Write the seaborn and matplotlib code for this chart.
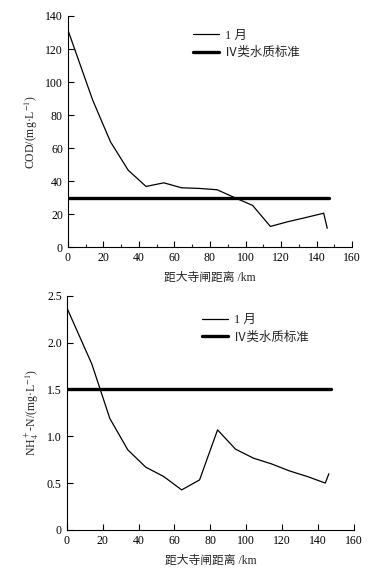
import matplotlib
matplotlib.use("Agg")
import matplotlib.pyplot as plt
import seaborn as sns
import pandas as pd
from matplotlib.ticker import MultipleLocator, FuncFormatter

sns.set_style("ticks")
plt.rcParams['font.family'] = ['Liberation Serif', 'Noto Sans CJK SC']
plt.rcParams['mathtext.fontset'] = 'stix'
plt.rcParams['axes.unicode_minus'] = False

# Data
dist = [0, 14, 24, 34, 44, 54, 64, 74, 84, 94, 104, 114, 124, 134, 144, 146]
cod = [131.6, 89, 63.8, 46.6, 36.8, 39, 36, 35.6, 34.8, 30, 25.3, 12.6, 15.5, 18, 20.6, 11.5]
nh4 = [2.375, 1.77, 1.19, 0.855, 0.67, 0.57, 0.427, 0.534, 1.068, 0.862, 0.766, 0.705, 0.63, 0.57, 0.50, 0.60]
std_x = [0, 147]
cod_std = [30, 30]
nh4_std = [1.5, 1.5]
label_month = "1 月"
label_std = "Ⅳ类水质标准"
xlabel = "距大寺闸距离 /km"

fig = plt.figure(figsize=(3.77, 5.71), dpi=100)
ax1 = fig.add_axes([0.180, 0.567, 0.754, 0.405])
ax2 = fig.add_axes([0.177, 0.072, 0.762, 0.410])

fs = 8.5

def style(ax, ylim, ymaj, minor_x):
    ax.set_xlim(0, 160)
    ax.set_ylim(*ylim)
    ax.xaxis.set_major_locator(MultipleLocator(20))
    if minor_x:
        ax.xaxis.set_minor_locator(MultipleLocator(10))
    ax.yaxis.set_major_locator(MultipleLocator(ymaj))
    ax.tick_params(axis='both', which='major', direction='in', length=4, width=0.8, labelsize=fs, colors='black')
    ax.tick_params(axis='both', which='minor', direction='in', length=2.5, width=0.8)
    for s in ['top', 'right']:
        ax.spines[s].set_visible(False)
    for s in ['left', 'bottom']:
        ax.spines[s].set_linewidth(0.8)
        ax.spines[s].set_color('black')

df1 = pd.DataFrame({'x': dist, 'y': cod})
sns.lineplot(data=df1, x='x', y='y', ax=ax1, color='black', linewidth=0.9, label=label_month)
sns.lineplot(x=std_x, y=cod_std, ax=ax1, color='black', linewidth=2.4, label=label_std)
style(ax1, (0, 140), 20, True)
ax1.set_xlabel(xlabel, fontsize=fs, labelpad=6)
ax1.set_ylabel("COD/(mg·L$^{-1}$)", fontsize=fs, labelpad=4)
ax1.legend(loc='upper left', bbox_to_anchor=(0.40, 0.99), frameon=False, fontsize=9,
           handlelength=2.1, labelspacing=0.45, handletextpad=0.5)

df2 = pd.DataFrame({'x': dist, 'y': nh4})
sns.lineplot(data=df2, x='x', y='y', ax=ax2, color='black', linewidth=0.9, label=label_month)
sns.lineplot(x=std_x, y=nh4_std, ax=ax2, color='black', linewidth=2.4, label=label_std)
style(ax2, (0, 2.5), 0.5, False)
ax2.yaxis.set_major_formatter(FuncFormatter(lambda v, p: "0" if v == 0 else f"{v:.1f}"))
ax2.set_xlabel(xlabel, fontsize=fs, labelpad=6)
ax2.set_ylabel("NH$_4^+$-N/(mg·L$^{-1}$)", fontsize=fs, labelpad=4)
ax2.legend(loc='upper left', bbox_to_anchor=(0.43, 0.97), frameon=False, fontsize=9,
           handlelength=2.1, labelspacing=0.45, handletextpad=0.5)

fig.savefig("out.png", dpi=100)
